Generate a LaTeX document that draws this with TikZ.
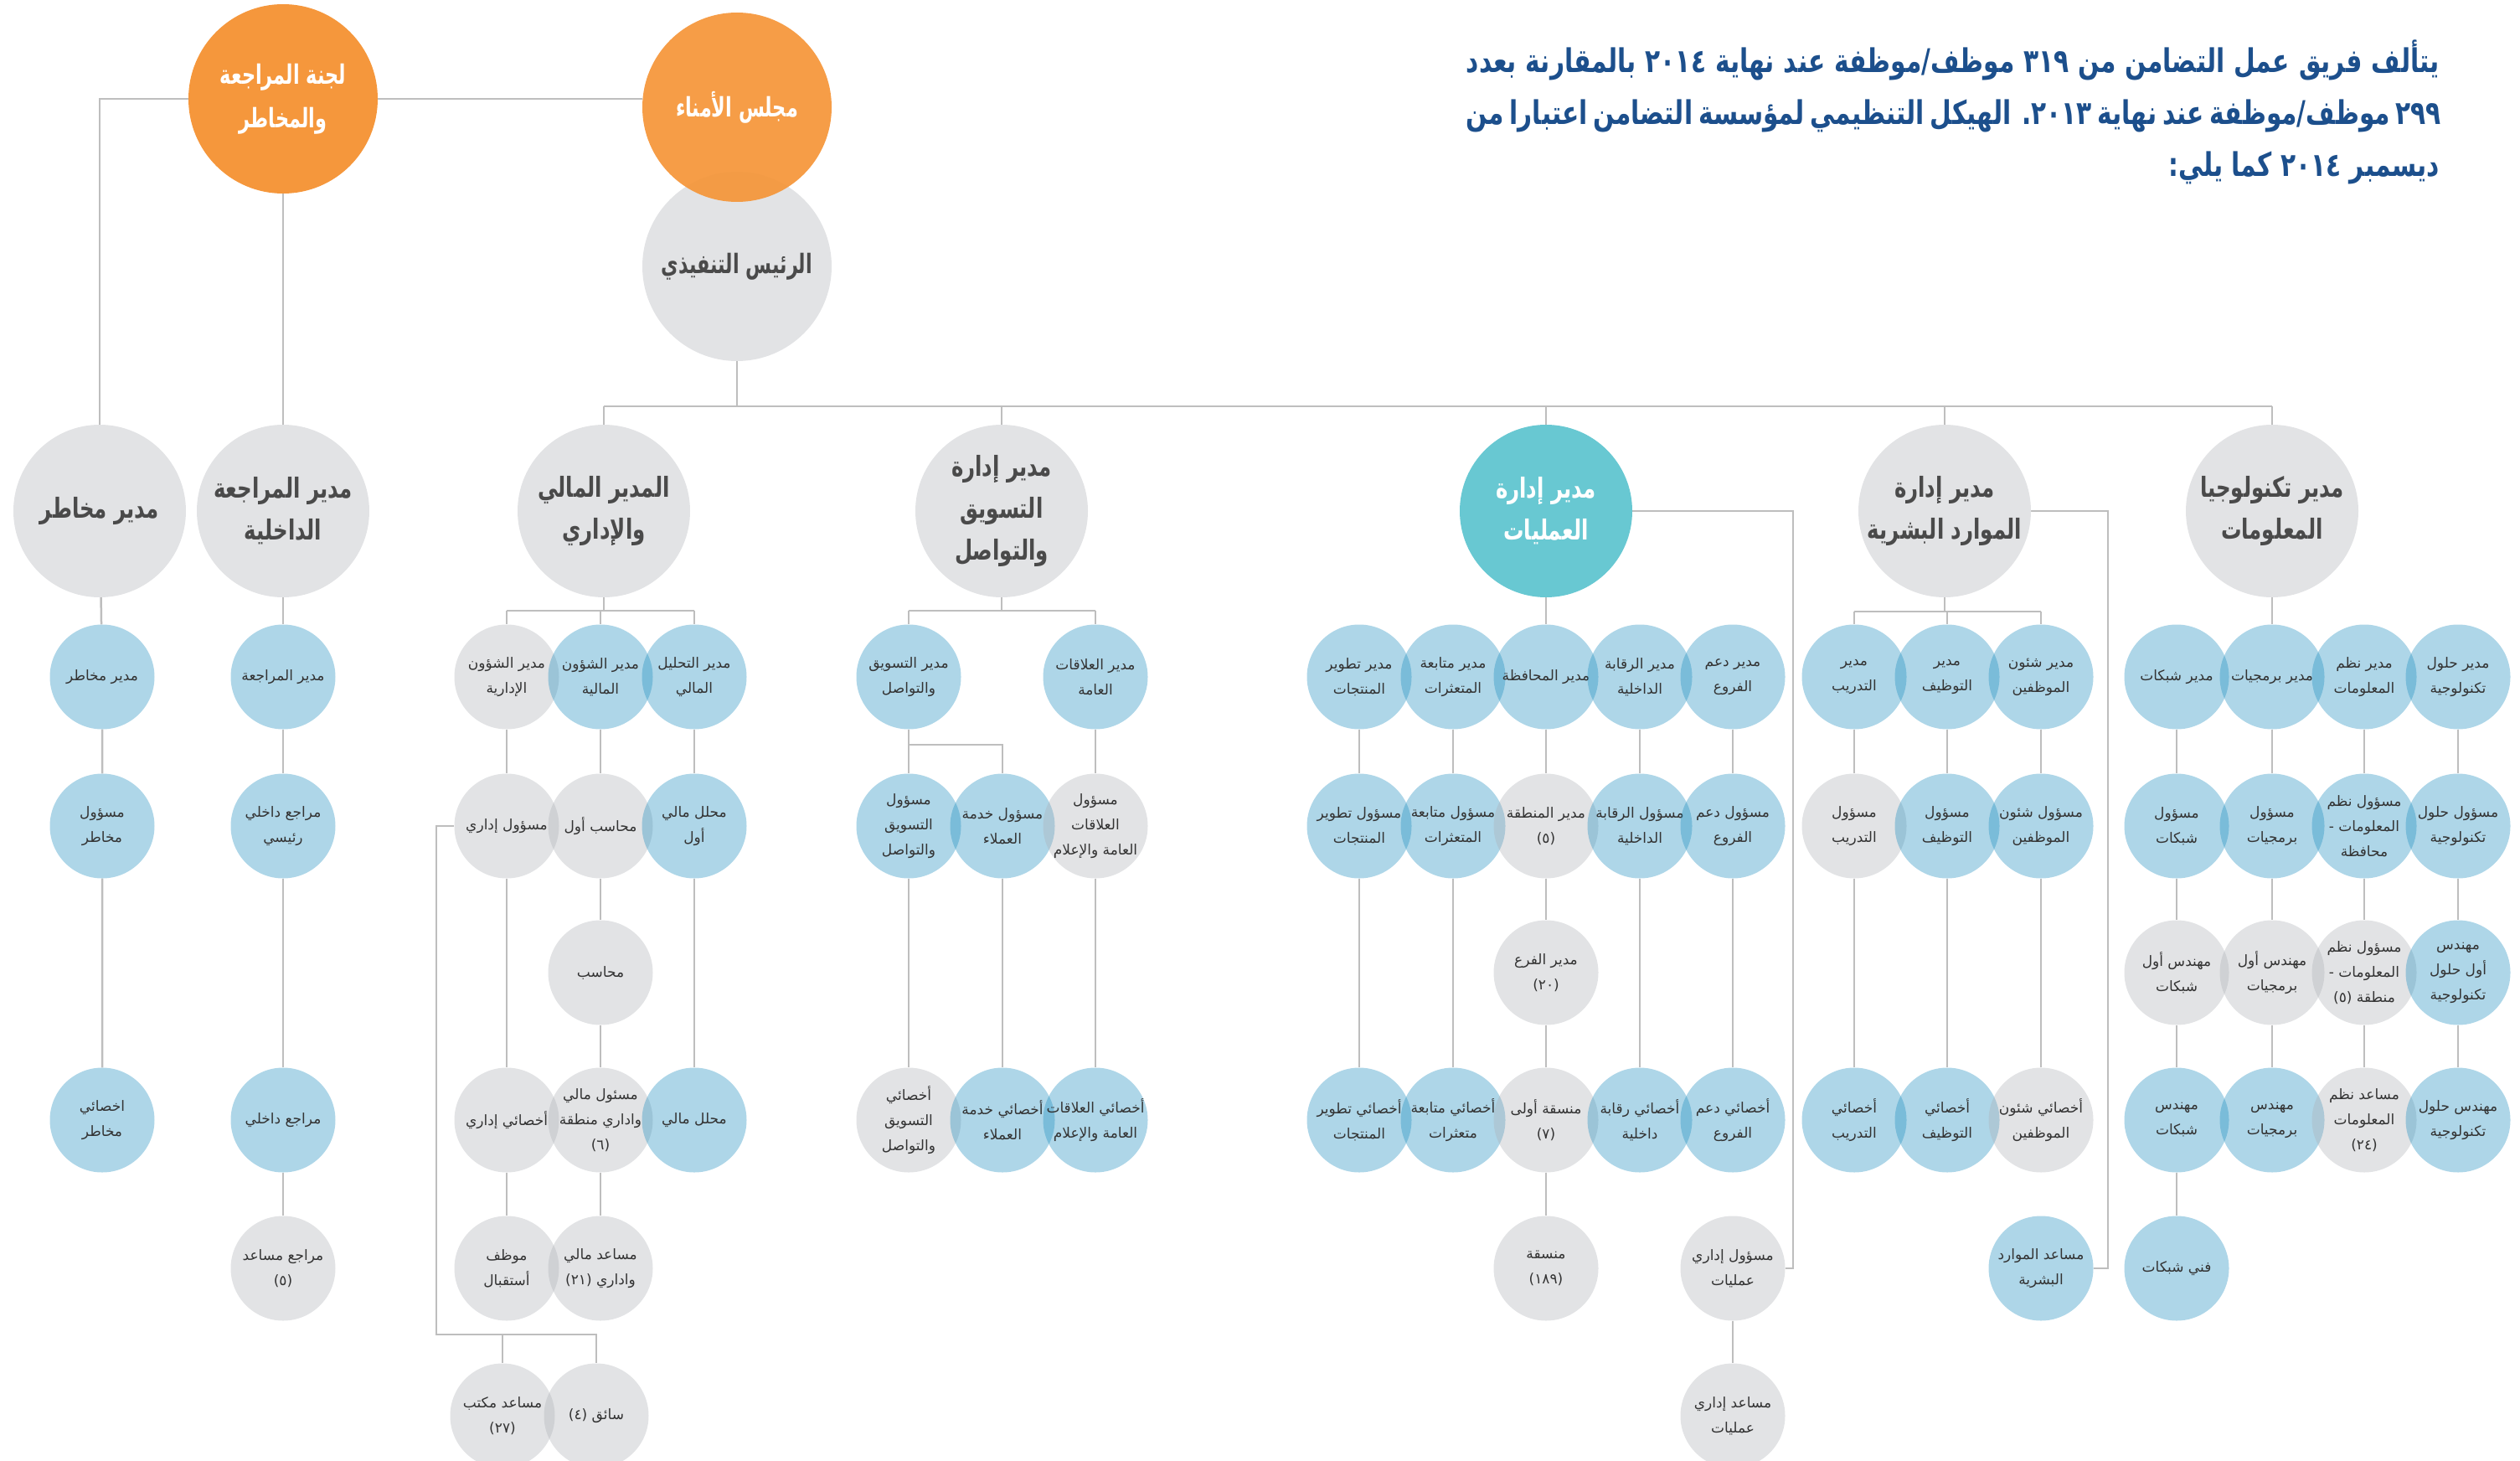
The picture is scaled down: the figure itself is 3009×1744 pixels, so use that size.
\documentclass[tikz,border=0pt]{standalone}
\usepackage{fontspec}
\TeXXeTstate=1
\newfontfamily\arabicfont[Script=Arabic]{DejaVu Sans}
\newfontfamily\titleAr[Script=Arabic,FakeStretch=0.76]{DejaVu Sans Bold}
\newfontfamily\mgrAr[Script=Arabic,FakeStretch=0.74]{DejaVu Sans Bold}
\newfontfamily\topAr[Script=Arabic,FakeStretch=0.7]{DejaVu Sans Bold}
\newcommand\AR[1]{\beginR #1\endR}
\newcommand\LN[1]{\beginL #1\endL}
\definecolor{orng}{HTML}{F5973C}
\definecolor{cgrey}{HTML}{E2E3E5}
\definecolor{opsteal}{HTML}{68C8D2}
\definecolor{bluebase}{RGB}{24,138,189}
\definecolor{greybase}{RGB}{172,175,181}
\definecolor{linec}{HTML}{BEBEBE}
\definecolor{txt}{HTML}{333333}
\definecolor{mtxt}{HTML}{4A4A4A}
\definecolor{titleblue}{HTML}{1C4F8C}
\pgfdeclarelayer{bg}
\pgfsetlayers{bg,main}
\newcommand\smallfont{\arabicfont\fontsize{17}{30}\selectfont}
\newcommand\mgrfont{\mgrAr\fontsize{33}{50}\selectfont}
\newcommand\topfont{\topAr\fontsize{32}{52}\selectfont}
\newcommand\titlefont{\titleAr\fontsize{39}{60}\selectfont}
\tikzset{
  circ/.style={circle, inner sep=-20pt, minimum size=125pt, align=center, font=\smallfont, text=txt, text opacity=1},
  bl/.style={circ, fill=bluebase, fill opacity=0.35},
  gr/.style={circ, fill=greybase, fill opacity=0.35},
  mgr/.style={circle, inner sep=-20pt, minimum size=206pt, fill=cgrey, align=center, font=\mgrfont, text=mtxt},
  topc/.style={circle, inner sep=-20pt, minimum size=226pt, align=center, font=\topfont, text=white, text opacity=1},
  conn/.style={draw=linec, line width=2.5pt},
  ttl/.style={anchor=base east, inner sep=0pt, font=\titlefont, text=titleblue}
}
\begin{document}
\begin{tikzpicture}[x=1pt,y=-1pt]
\useasboundingbox (0,0) rectangle (3009,1744);
% title
\node[ttl] (t1) at (2913,87) {\hbox to 1162pt{\AR{يتألف فريق عمل التضامن من \LN{٣١٩} موظف/موظفة عند نهاية \LN{٢٠١٤} بالمقارنة بعدد}}};
\node[ttl] (t2) at (2913,149) {\hbox to 1162pt{\AR{\LN{٢٩٩} موظف/موظفة عند نهاية \LN{٢٠١٣}. الهيكل التنظيمي لمؤسسة التضامن اعتبارا من}}};
\node[ttl] (t3) at (2913,211) {\AR{ديسمبر \LN{٢٠١٤} كما يلي:}};
% top level
\node[topc, fill=cgrey, text=mtxt] (ceo) at (880,318) {\AR{الرئيس التنفيذي}};
\node[topc, fill=orng, fill opacity=0.94] (board) at (880,128) {\AR{مجلس الأمناء}};
\node[topc, fill=orng] (cmte) at (338,118) {\AR{لجنة المراجعة}\\\AR{والمخاطر}};
% managers
\node[mgr] (m1) at (119,610) {\AR{مدير مخاطر}};
\node[mgr] (m2) at (338,610) {\AR{مدير المراجعة}\\\AR{الداخلية}};
\node[mgr] (m3) at (721,610) {\AR{المدير المالي}\\\AR{والإداري}};
\node[mgr] (m4) at (1196,610) {\AR{مدير إدارة}\\\AR{التسويق}\\\AR{والتواصل}};
\node[mgr, fill=opsteal, text=white] (m5) at (1846,610) {\AR{مدير إدارة}\\\AR{العمليات}};
\node[mgr] (m6) at (2322,610) {\AR{مدير إدارة}\\\AR{الموارد البشرية}};
\node[mgr] (m7) at (2713,610) {\AR{مدير تكنولوجيا}\\\AR{المعلومات}};
% risk
\node[bl] (ra1) at (122,808) {\AR{مدير مخاطر}};
\node[bl] (ra2) at (122,986) {\AR{مسؤول}\\\AR{مخاطر}};
\node[bl] (ra4) at (122,1337) {\AR{اخصائي}\\\AR{مخاطر}};
% audit
\node[bl] (aa1) at (338,808) {\AR{مدير المراجعة}};
\node[bl] (aa2) at (338,986) {\AR{مراجع داخلي}\\\AR{رئيسي}};
\node[bl] (aa4) at (338,1337) {\AR{مراجع داخلي}};
\node[gr] (aa5) at (338,1514) {\AR{مراجع مساعد}\\\LN{(٥)}};
% finance
\node[gr] (fa1) at (605,808) {\AR{مدير الشؤون}\\\AR{الإدارية}};
\node[bl] (fb1) at (717,808) {\AR{مدير الشؤون}\\\AR{المالية}};
\node[bl] (fc1) at (829,808) {\AR{مدير التحليل}\\\AR{المالي}};
\node[gr] (fa2) at (605,986) {\AR{مسؤول إداري}};
\node[gr] (fb2) at (717,986) {\AR{محاسب أول}};
\node[bl] (fc2) at (829,986) {\AR{محلل مالي}\\\AR{أول}};
\node[gr] (fb3) at (717,1161) {\AR{محاسب}};
\node[gr] (fa4) at (605,1337) {\AR{أخصائي إداري}};
\node[gr] (fb4) at (717,1337) {\AR{مسئول مالي}\\\AR{واداري منطقة}\\\LN{(٦)}};
\node[bl] (fc4) at (829,1337) {\AR{محلل مالي}};
\node[gr] (fa5) at (605,1514) {\AR{موظف}\\\AR{أستقبال}};
\node[gr] (fb5) at (717,1514) {\AR{مساعد مالي}\\\AR{واداري \LN{(٢١)}}};
\node[gr] (fa6) at (600,1690) {\AR{مساعد مكتب}\\\LN{(٢٧)}};
\node[gr] (fb6) at (712,1690) {\AR{سائق \LN{(٤)}}};
% marketing
\node[bl] (ka1) at (1085,808) {\AR{مدير التسويق}\\\AR{والتواصل}};
\node[bl] (kc1) at (1308,808) {\AR{مدير العلاقات}\\\AR{العامة}};
\node[bl] (ka2) at (1085,986) {\AR{مسؤول}\\\AR{التسويق}\\\AR{والتواصل}};
\node[bl] (kb2) at (1197,986) {\AR{مسؤول خدمة}\\\AR{العملاء}};
\node[gr] (kc2) at (1308,986) {\AR{مسؤول}\\\AR{العلاقات}\\\AR{العامة والإعلام}};
\node[gr] (ka4) at (1085,1337) {\AR{أخصائي}\\\AR{التسويق}\\\AR{والتواصل}};
\node[bl] (kb4) at (1197,1337) {\AR{أخصائي خدمة}\\\AR{العملاء}};
\node[bl] (kc4) at (1308,1337) {\AR{أخصائي العلاقات}\\\AR{العامة والإعلام}};
% operations
\node[bl] (oa1) at (1623,808) {\AR{مدير تطوير}\\\AR{المنتجات}};
\node[bl] (ob1) at (1735,808) {\AR{مدير متابعة}\\\AR{المتعثرات}};
\node[bl] (oc1) at (1846,808) {\AR{مدير المحافظة}};
\node[bl] (od1) at (1958,808) {\AR{مدير الرقابة}\\\AR{الداخلية}};
\node[bl] (oe1) at (2069,808) {\AR{مدير دعم}\\\AR{الفروع}};
\node[bl] (oa2) at (1623,986) {\AR{مسؤول تطوير}\\\AR{المنتجات}};
\node[bl] (ob2) at (1735,986) {\AR{مسؤول متابعة}\\\AR{المتعثرات}};
\node[gr] (oc2) at (1846,986) {\AR{مدير المنطقة}\\\LN{(٥)}};
\node[bl] (od2) at (1958,986) {\AR{مسؤول الرقابة}\\\AR{الداخلية}};
\node[bl] (oe2) at (2069,986) {\AR{مسؤول دعم}\\\AR{الفروع}};
\node[gr] (oc3) at (1846,1161) {\AR{مدير الفرع}\\\LN{(٢٠)}};
\node[bl] (oa4) at (1623,1337) {\AR{أخصائي تطوير}\\\AR{المنتجات}};
\node[bl] (ob4) at (1735,1337) {\AR{أخصائي متابعة}\\\AR{متعثرات}};
\node[gr] (oc4) at (1846,1337) {\AR{منسقة أولى}\\\LN{(٧)}};
\node[bl] (od4) at (1958,1337) {\AR{أخصائي رقابة}\\\AR{داخلية}};
\node[bl] (oe4) at (2069,1337) {\AR{أخصائي دعم}\\\AR{الفروع}};
\node[gr] (oc5) at (1846,1514) {\AR{منسقة}\\\LN{(١٨٩)}};
\node[gr] (oe5) at (2069,1514) {\AR{مسؤول إداري}\\\AR{عمليات}};
\node[gr] (oe6) at (2069,1690) {\AR{مساعد إداري}\\\AR{عمليات}};
% HR
\node[bl] (ha1) at (2214,808) {\AR{مدير}\\\AR{التدريب}};
\node[bl] (hb1) at (2325,808) {\AR{مدير}\\\AR{التوظيف}};
\node[bl] (hc1) at (2437,808) {\AR{مدير شئون}\\\AR{الموظفين}};
\node[gr] (ha2) at (2214,986) {\AR{مسؤول}\\\AR{التدريب}};
\node[bl] (hb2) at (2325,986) {\AR{مسؤول}\\\AR{التوظيف}};
\node[bl] (hc2) at (2437,986) {\AR{مسؤول شئون}\\\AR{الموظفين}};
\node[bl] (ha4) at (2214,1337) {\AR{أخصائي}\\\AR{التدريب}};
\node[bl] (hb4) at (2325,1337) {\AR{أخصائي}\\\AR{التوظيف}};
\node[gr] (hc4) at (2437,1337) {\AR{أخصائي شئون}\\\AR{الموظفين}};
\node[bl] (hc5) at (2437,1514) {\AR{مساعد الموارد}\\\AR{البشرية}};
% IT
\node[bl] (ia1) at (2599,808) {\AR{مدير شبكات}};
\node[bl] (ib1) at (2713,808) {\AR{مدير برمجيات}};
\node[bl] (ic1) at (2823,808) {\AR{مدير نظم}\\\AR{المعلومات}};
\node[bl] (id1) at (2935,808) {\AR{مدير حلول}\\\AR{تكنولوجية}};
\node[bl] (ia2) at (2599,986) {\AR{مسؤول}\\\AR{شبكات}};
\node[bl] (ib2) at (2713,986) {\AR{مسؤول}\\\AR{برمجيات}};
\node[bl] (ic2) at (2823,986) {\AR{مسؤول نظم}\\\AR{المعلومات -}\\\AR{محافظة}};
\node[bl] (id2) at (2935,986) {\AR{مسؤول حلول}\\\AR{تكنولوجية}};
\node[gr] (ia3) at (2599,1161) {\AR{مهندس أول}\\\AR{شبكات}};
\node[gr] (ib3) at (2713,1161) {\AR{مهندس أول}\\\AR{برمجيات}};
\node[gr] (ic3) at (2823,1161) {\AR{مسؤول نظم}\\\AR{المعلومات -}\\\AR{منطقة \LN{(٥)}}};
\node[bl] (id3) at (2935,1161) {\AR{مهندس}\\\AR{أول حلول}\\\AR{تكنولوجية}};
\node[bl] (ia4) at (2599,1337) {\AR{مهندس}\\\AR{شبكات}};
\node[bl] (ib4) at (2713,1337) {\AR{مهندس}\\\AR{برمجيات}};
\node[gr] (ic4) at (2823,1337) {\AR{مساعد نظم}\\\AR{المعلومات}\\\LN{(٢٤)}};
\node[bl] (id4) at (2935,1337) {\AR{مهندس حلول}\\\AR{تكنولوجية}};
\node[bl] (ia5) at (2599,1514) {\AR{فني شبكات}};
% coordinates
\coordinate (bus) at (880,485);
\coordinate (fbus) at (721,729);
\coordinate (kbus) at (1196,729);
\coordinate (hbus) at (2322,730);
\coordinate (kbr) at (1085,889);
\coordinate (o1) at (521,1593);
\coordinate (o2) at (712,1593);
\coordinate (orr) at (2141,610);
\coordinate (hrr) at (2517,610);
\begin{pgfonlayer}{bg}
\draw[conn] (cmte.west) -| (m1);
\draw[conn] (cmte.east) -- (board.west |- cmte.east);
\draw[conn] (cmte) -- (m2);
\draw[conn] (ceo) -- (bus);
\draw[conn] (m3 |- bus) -- (m7 |- bus);
\foreach \m in {m3,m4,m5,m6,m7} \draw[conn] (\m |- bus) -- (\m);
% risk, audit
\draw[conn] (m1) -- (ra1) -- (ra2) -- (ra4);
\draw[conn] (m2) -- (aa1) -- (aa2) -- (aa4) -- (aa5);
% finance
\draw[conn] (m3) -- (fbus);
\draw[conn] (fa1 |- fbus) -- (fc1 |- fbus);
\foreach \n in {fa1,fb1,fc1} \draw[conn] (\n |- fbus) -- (\n);
\draw[conn] (fa1) -- (fa2) -- (fa4) -- (fa5);
\draw[conn] (fb1) -- (fb2) -- (fb3) -- (fb4) -- (fb5);
\draw[conn] (fc1) -- (fc2) -- (fc4);
\draw[conn] (fa2.west) -| (o1) -- (o2) -- (fb6);
\draw[conn] (fa6 |- o1) -- (fa6);
% marketing
\draw[conn] (m4) -- (kbus);
\draw[conn] (ka1 |- kbus) -- (kc1 |- kbus);
\foreach \n in {ka1,kc1} \draw[conn] (\n |- kbus) -- (\n);
\draw[conn] (ka1) -- (ka2) -- (ka4);
\draw[conn] (kbr) -| (kb2);
\draw[conn] (kb2) -- (kb4);
\draw[conn] (kc1) -- (kc2) -- (kc4);
% operations
\draw[conn] (m5) -- (oc1);
\draw[conn] (oa1) -- (oa2) -- (oa4);
\draw[conn] (ob1) -- (ob2) -- (ob4);
\draw[conn] (oc1) -- (oc2) -- (oc3) -- (oc4) -- (oc5);
\draw[conn] (od1) -- (od2) -- (od4);
\draw[conn] (oe1) -- (oe2) -- (oe4);
\draw[conn] (oe5) -- (oe6);
\draw[conn] (m5.east) -- (orr) |- (oe5.east);
% HR
\draw[conn] (m6) -- (hbus);
\draw[conn] (ha1 |- hbus) -- (hc1 |- hbus);
\foreach \n in {ha1,hb1,hc1} \draw[conn] (\n |- hbus) -- (\n);
\draw[conn] (ha1) -- (ha2) -- (ha4);
\draw[conn] (hb1) -- (hb2) -- (hb4);
\draw[conn] (hc1) -- (hc2) -- (hc4);
\draw[conn] (m6.east) -- (hrr) |- (hc5.east);
% IT
\draw[conn] (m7) -- (ib1);
\draw[conn] (ia1) -- (ia2) -- (ia3) -- (ia4) -- (ia5);
\draw[conn] (ib1) -- (ib2) -- (ib3) -- (ib4);
\draw[conn] (ic1) -- (ic2) -- (ic3) -- (ic4);
\draw[conn] (id1) -- (id2) -- (id3) -- (id4);
\end{pgfonlayer}
\end{tikzpicture}
\end{document}
